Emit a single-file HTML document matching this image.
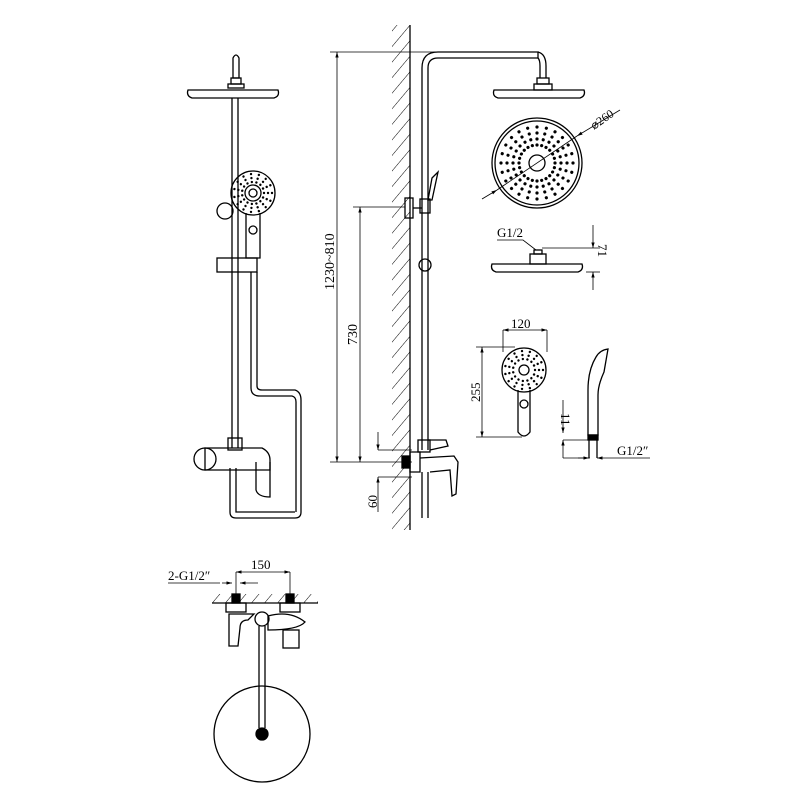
<!DOCTYPE html>
<html><head><meta charset="utf-8"><style>
html,body{margin:0;padding:0;background:#fff}
svg{display:block}
text{font-family:"Liberation Serif",serif;fill:#000}
</style></head><body>
<svg width="800" height="800" viewBox="0 0 800 800" xmlns="http://www.w3.org/2000/svg">
<defs>
<pattern id="hatch" patternUnits="userSpaceOnUse" width="10" height="10" patternTransform="rotate(40)">
<line x1="0" y1="0" x2="0" y2="10" stroke="#000" stroke-width="1"/>
</pattern>
<marker id="ar" viewBox="0 0 10 10" refX="10" refY="5" markerWidth="7" markerHeight="7" orient="auto-start-reverse"><path d="M0,2 L10,5 L0,8 z" fill="#000"/></marker>
<g id="ray"><circle cx="18" cy="0" r="1.6"/><circle cx="24" cy="0" r="1.6"/><circle cx="30" cy="0" r="1.6"/><circle cx="36" cy="0" r="1.6"/></g>
<g id="hray"><circle cx="11" cy="0" r="1.2"/><circle cx="15" cy="0" r="1.2"/><circle cx="19" cy="0" r="1.2"/></g>
</defs>
<g fill="none" stroke="#000" stroke-width="1.3">
<!-- FRONT VIEW -->
<path d="M233,78 L233,58 Q236,52 239,58 L239,78 Z"/>
<rect x="231" y="78" width="10" height="6"/>
<rect x="228" y="84" width="16" height="4"/>
<path d="M188,90 Q186,96 192,98 L274,98 Q280,96 278,90 Z"/>
<line x1="232" y1="98" x2="232" y2="448"/><line x1="238" y1="98" x2="238" y2="448"/>
<circle cx="225" cy="211" r="8"/>
<circle cx="253" cy="193" r="22"/>
<circle cx="253" cy="193" r="8"/><circle cx="253" cy="193" r="4"/>
<path d="M246,213 L246,258 L260,258 L260,213"/>
<circle cx="253" cy="230" r="4"/>
<rect x="217" y="258" width="40" height="14"/>
<line x1="251" y1="272" x2="251" y2="388"/><line x1="257" y1="272" x2="257" y2="386"/>
<path d="M251,388 Q251,396 260,396 L292,396 Q296,397 296,402 L296,512"/>
<path d="M257,386 Q257,390 262,390 L295,390 Q301,392 301,400 L301,512 Q301,518 295,518 L236,518 Q230,518 230,512 L230,468"/>
<path d="M236,468 L236,512 L295,512"/>
<rect x="228" y="438" width="14" height="12"/>
<path d="M205,448 L262,448 Q270,452 270,460 L270,470 L205,470 Z"/>
<circle cx="205" cy="459" r="11"/>
<path d="M256,462 L256,490 Q258,497 270,497 L270,462"/>
<!-- SIDE VIEW: wall -->
<rect x="392" y="25" width="18" height="505" fill="url(#hatch)" stroke="none"/>
<line x1="410" y1="25" x2="410" y2="530"/>
<!-- dims -->
<line x1="330" y1="52" x2="437" y2="52" stroke-width="0.8"/>
<line x1="337" y1="52" x2="337" y2="462" stroke-width="0.8" marker-start="url(#ar)" marker-end="url(#ar)"/>
<line x1="330" y1="462" x2="412" y2="462" stroke-width="0.8"/>
<line x1="353" y1="207" x2="405" y2="207" stroke-width="0.8"/>
<line x1="360" y1="207" x2="360" y2="462" stroke-width="0.8" marker-start="url(#ar)" marker-end="url(#ar)"/>
<line x1="378" y1="432" x2="378" y2="450" stroke-width="0.8" marker-end="url(#ar)"/>
<line x1="378" y1="512" x2="378" y2="477" stroke-width="0.8" marker-end="url(#ar)"/>
<line x1="378" y1="450" x2="412" y2="450" stroke-width="0.8"/>
<line x1="378" y1="477" x2="412" y2="477" stroke-width="0.8"/>
<rect x="402" y="456" width="8" height="12" fill="#000"/>
<!-- rail -->
<path d="M422,450 L422,68 Q422,52 438,52 L538,52 L538,58 L438,58 Q428,58 428,68 L428,450"/>
<path d="M538,52 Q546,54 546,66 L546,78"/><path d="M538,58 Q540,60 540,66 L540,78"/>
<rect x="537" y="78" width="12" height="6"/>
<path d="M494,90 Q492,96 498,98 L580,98 Q586,96 584,90 Z"/>
<rect x="534" y="84" width="18" height="6"/>
<rect x="405" y="198" width="8" height="20"/>
<line x1="413" y1="208" x2="422" y2="208"/>
<rect x="420" y="199" width="10" height="14"/>
<path d="M428,200 L432,178 L438,172 L432,200 Z"/>
<circle cx="425" cy="265" r="6"/>
<rect x="418" y="440" width="12" height="12"/>
<path d="M428,440 L446,440 L448,446 L430,450"/>
<path d="M410,452 L420,452 L420,472 L410,472 Z"/>
<path d="M420,458 L454,456 L458,462 L456,494 L452,496 L450,470 L430,472"/>
<line x1="422" y1="472" x2="422" y2="518"/><line x1="428" y1="472" x2="428" y2="518"/>
<!-- top view head -->
<circle cx="537" cy="163" r="45"/><circle cx="537" cy="163" r="42"/>
<circle cx="537" cy="163" r="8"/>
<line x1="482" y1="199" x2="497" y2="190" stroke-width="0.8" marker-end="url(#ar)"/>
<line x1="497" y1="190" x2="577" y2="136" stroke-width="0.8"/>
<line x1="620" y1="110" x2="577" y2="136" stroke-width="0.8" marker-end="url(#ar)"/>
<!-- side head -->
<path d="M492,264 Q490,270 496,272 L578,272 Q584,270 582,264 Z"/>
<rect x="530" y="254" width="16" height="10"/>
<rect x="534" y="250" width="8" height="4"/>
<path d="M497,240 L523,240 L536,250" stroke-width="0.8"/>
<line x1="542" y1="248" x2="600" y2="248" stroke-width="0.8"/>
<line x1="586" y1="272" x2="600" y2="272" stroke-width="0.8"/>
<line x1="593" y1="225" x2="593" y2="248" stroke-width="0.8" marker-end="url(#ar)"/>
<line x1="593" y1="290" x2="593" y2="272" stroke-width="0.8" marker-end="url(#ar)"/>
<!-- handshower front -->
<circle cx="524" cy="370" r="22"/>
<circle cx="524" cy="370" r="5"/>
<path d="M518,390 L518,432 Q524,440 530,432 L530,390"/>
<circle cx="524" cy="404" r="4"/>
<line x1="503" y1="330" x2="503" y2="352" stroke-width="0.8"/>
<line x1="547" y1="330" x2="547" y2="352" stroke-width="0.8"/>
<line x1="503" y1="330" x2="547" y2="330" stroke-width="0.8" marker-start="url(#ar)" marker-end="url(#ar)"/>
<line x1="476" y1="347" x2="515" y2="347" stroke-width="0.8"/>
<line x1="476" y1="437" x2="522" y2="437" stroke-width="0.8"/>
<line x1="482" y1="347" x2="482" y2="437" stroke-width="0.8" marker-start="url(#ar)" marker-end="url(#ar)"/>
<!-- handshower side -->
<path d="M588,435 L588,390 Q588,370 596,357 Q600,350 608,349 L604,372 Q598,385 598,395 L598,435 Z"/>
<rect x="588" y="435" width="10" height="5" fill="#000"/>
<line x1="589" y1="440" x2="589" y2="458"/><line x1="597" y1="440" x2="597" y2="458"/>
<line x1="563" y1="400" x2="563" y2="433" stroke-width="0.8" marker-end="url(#ar)"/>
<line x1="563" y1="458" x2="563" y2="440" stroke-width="0.8" marker-end="url(#ar)"/>
<line x1="563" y1="440" x2="590" y2="440" stroke-width="0.8"/>
<line x1="563" y1="458" x2="590" y2="458" stroke-width="0.8"/>
<line x1="578" y1="458" x2="589" y2="458" stroke-width="0.8" marker-end="url(#ar)"/>
<line x1="650" y1="458" x2="597" y2="458" stroke-width="0.8" marker-end="url(#ar)"/>
<!-- BOTTOM VIEW -->
<rect x="212" y="594" width="106" height="9" fill="url(#hatch)" stroke="none"/>
<line x1="212" y1="603" x2="318" y2="603"/>
<rect x="232" y="594" width="8" height="9" fill="#000"/><rect x="286" y="594" width="8" height="9" fill="#000"/>
<line x1="236" y1="572" x2="236" y2="594" stroke-width="0.8"/><line x1="290" y1="572" x2="290" y2="594" stroke-width="0.8"/>
<line x1="236" y1="572" x2="290" y2="572" stroke-width="0.8" marker-start="url(#ar)" marker-end="url(#ar)"/>
<line x1="168" y1="583" x2="220" y2="583" stroke-width="0.8"/>
<line x1="222" y1="583" x2="232" y2="583" stroke-width="0.8" marker-end="url(#ar)"/>
<line x1="258" y1="583" x2="240" y2="583" stroke-width="0.8" marker-end="url(#ar)"/>
<rect x="226" y="603" width="20" height="9"/><rect x="280" y="603" width="20" height="9"/>
<path d="M229,614 L254,614 L248,620 Q240,620 240,628 L238,646 L229,646 Z"/>
<circle cx="262" cy="619" r="7"/>
<path d="M268,616 Q290,610 305,622 Q298,630 268,630 Z"/>
<rect x="283" y="630" width="16" height="18"/>
<line x1="259" y1="626" x2="259" y2="728"/><line x1="265" y1="626" x2="265" y2="728"/>
<circle cx="262" cy="734" r="48"/>
<circle cx="262" cy="734" r="6" fill="#000"/>
</g>
<!-- dots -->
<g fill="#000" transform="translate(537,163)">
<use href="#ray" transform="rotate(0)"/><use href="#ray" transform="rotate(15)"/><use href="#ray" transform="rotate(30)"/><use href="#ray" transform="rotate(45)"/><use href="#ray" transform="rotate(60)"/><use href="#ray" transform="rotate(75)"/><use href="#ray" transform="rotate(90)"/><use href="#ray" transform="rotate(105)"/><use href="#ray" transform="rotate(120)"/><use href="#ray" transform="rotate(135)"/><use href="#ray" transform="rotate(150)"/><use href="#ray" transform="rotate(165)"/><use href="#ray" transform="rotate(180)"/><use href="#ray" transform="rotate(195)"/><use href="#ray" transform="rotate(210)"/><use href="#ray" transform="rotate(225)"/><use href="#ray" transform="rotate(240)"/><use href="#ray" transform="rotate(255)"/><use href="#ray" transform="rotate(270)"/><use href="#ray" transform="rotate(285)"/><use href="#ray" transform="rotate(300)"/><use href="#ray" transform="rotate(315)"/><use href="#ray" transform="rotate(330)"/><use href="#ray" transform="rotate(345)"/>
</g>
<g fill="#000" transform="translate(253,193)">
<use href="#hray" transform="rotate(0)"/><use href="#hray" transform="rotate(24)"/><use href="#hray" transform="rotate(48)"/><use href="#hray" transform="rotate(72)"/><use href="#hray" transform="rotate(96)"/><use href="#hray" transform="rotate(120)"/><use href="#hray" transform="rotate(144)"/><use href="#hray" transform="rotate(168)"/><use href="#hray" transform="rotate(192)"/><use href="#hray" transform="rotate(216)"/><use href="#hray" transform="rotate(240)"/><use href="#hray" transform="rotate(264)"/><use href="#hray" transform="rotate(288)"/><use href="#hray" transform="rotate(312)"/><use href="#hray" transform="rotate(336)"/>
</g>
<g fill="#000" transform="translate(524,370)">
<use href="#hray" transform="rotate(0)"/><use href="#hray" transform="rotate(24)"/><use href="#hray" transform="rotate(48)"/><use href="#hray" transform="rotate(72)"/><use href="#hray" transform="rotate(96)"/><use href="#hray" transform="rotate(120)"/><use href="#hray" transform="rotate(144)"/><use href="#hray" transform="rotate(168)"/><use href="#hray" transform="rotate(192)"/><use href="#hray" transform="rotate(216)"/><use href="#hray" transform="rotate(240)"/><use href="#hray" transform="rotate(264)"/><use href="#hray" transform="rotate(288)"/><use href="#hray" transform="rotate(312)"/><use href="#hray" transform="rotate(336)"/>
</g>
<!-- labels -->
<text font-size="14" transform="translate(334,290) rotate(-90)">1230~810</text>
<text font-size="14" transform="translate(357,345) rotate(-90)">730</text>
<text font-size="13" transform="translate(377,508) rotate(-90)">60</text>
<text font-size="12" transform="translate(594,130) rotate(-35)">⌀260</text>
<text font-size="13" x="497" y="237">G1/2</text>
<text font-size="13" transform="translate(598,244) rotate(90)">71</text>
<text font-size="13" x="511" y="328">120</text>
<text font-size="13" transform="translate(480,402) rotate(-90)">255</text>
<text font-size="13" transform="translate(561,413) rotate(90)">11</text>
<text font-size="13" x="617" y="455">G1/2″</text>
<text font-size="13" x="251" y="569">150</text>
<text font-size="13" x="168" y="580">2-G1/2″</text>
</svg>
</body></html>
